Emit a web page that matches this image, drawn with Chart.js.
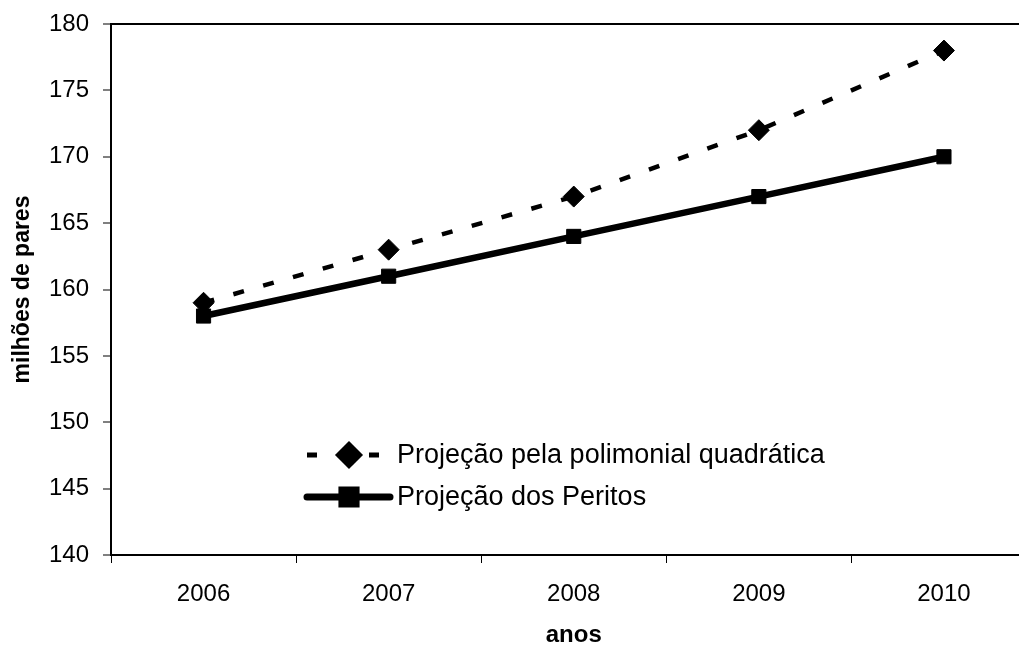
<!DOCTYPE html>
<html>
<head>
<meta charset="utf-8">
<script src="https://cdn.jsdelivr.net/npm/chart.js@4.4.0/dist/chart.umd.min.js"></script>
<style>
  html, body { margin: 0; padding: 0; background: #fff; overflow: hidden; }
  #wrap { width: 1019px; height: 646px; overflow: hidden; }
</style>
</head>
<body>
<div id="wrap"><canvas id="chart" width="1048" height="646"></canvas></div>
<script>
// anos
const years = ["2006", "2007", "2008", "2009", "2010"];
// milhões de pares
const quadratica = [159, 163, 167, 172, 178];
const peritos = [158, 161, 164, 167, 170];
const yTicks = [140, 145, 150, 155, 160, 165, 170, 175, 180];

const FONT = "'Liberation Sans', Arial, sans-serif";

// legend drawn inside the plot, like the original
const insideLegend = {
    id: "insideLegend",
    afterDatasetsDraw(chart) {
        const ctx = chart.ctx;
        const rows = [
            { ds: chart.data.datasets[0], y: 455 },
            { ds: chart.data.datasets[1], y: 497 }
        ];
        ctx.save();
        for (let r of rows) {
            ctx.strokeStyle = "#000";
            ctx.beginPath();
            if (r.ds.borderDash) {
                ctx.lineWidth = 5;
                ctx.setLineDash([10, 21]);
                ctx.lineCap = "butt";
                ctx.moveTo(307, r.y);
                ctx.lineTo(391, r.y);
            } else {
                ctx.lineWidth = 7;
                ctx.lineCap = "round";
                ctx.moveTo(307, r.y);
                ctx.lineTo(390, r.y);
            }
            ctx.stroke();
            ctx.setLineDash([]);
            Chart.helpers.drawPoint(ctx, {
                pointStyle: r.ds.pointStyle,
                radius: r.ds.pointRadius,
                borderWidth: 1
            }, 349, r.y);
            ctx.fillStyle = "#000";
            ctx.fill();
            ctx.font = "27px " + FONT;
            ctx.textBaseline = "middle";
            ctx.textAlign = "left";
            ctx.fillText(r.ds.label, 397, r.y + 1);
        }
        ctx.restore();
    }
};

const ctx = document.getElementById("chart").getContext("2d");

new Chart(ctx, {
    type: "line",
    data: {
        labels: years,
        datasets: [
            {
                label: "Projeção pela polimonial quadrática",
                data: quadratica,
                borderColor: "#000",
                backgroundColor: "#000",
                borderWidth: 4.5,
                borderDash: [11, 20],
                pointStyle: "rectRot",
                pointRadius: 10.5,
                pointBorderWidth: 1,
                tension: 0,
                fill: false
            },
            {
                label: "Projeção dos Peritos",
                data: peritos,
                borderColor: "#000",
                backgroundColor: "#000",
                borderWidth: 6.5,
                pointStyle: "rect",
                pointRadius: 10,
                pointBorderWidth: 1,
                tension: 0,
                fill: false
            }
        ]
    },
    options: {
        responsive: false,
        animation: false,
        layout: { padding: { top: 24, left: 0, right: 4, bottom: 0 } },
        plugins: {
            legend: { display: false },
            tooltip: { enabled: false }
        },
        scales: {
            x: {
                offset: true,
                border: { display: true, color: "#000", width: 2 },
                grid: {
                    offset: true,
                    drawOnChartArea: false,
                    tickLength: 8,
                    tickColor: "#000",
                    lineWidth: 1
                },
                ticks: { color: "#000", font: { family: FONT, size: 24 }, padding: 17 },
                title: {
                    display: true,
                    text: "anos",
                    color: "#000",
                    font: { family: FONT, size: 24, weight: "bold" },
                    padding: { top: 8, bottom: -4 }
                },
                afterFit: s => { s.height = 91; }
            },
            y: {
                min: 140,
                max: 180,
                afterBuildTicks: s => { s.ticks = yTicks.map(v => ({ value: v })); },
                border: { display: true, color: "#000", width: 2 },
                grid: {
                    color: c => (c.tick && c.tick.value === 180 ? "#000" : "rgba(0,0,0,0)"),
                    lineWidth: 2,
                    tickLength: 8,
                    tickColor: "#808080"
                },
                ticks: { color: "#000", font: { family: FONT, size: 24 }, padding: 14 },
                title: {
                    display: true,
                    text: "milhões de pares",
                    color: "#000",
                    font: { family: FONT, size: 23, weight: "bold" },
                    padding: { top: 9, bottom: 6 }
                },
                afterFit: s => {
                    s.width = 111;
                    s.paddingTop = 0;
                    s.paddingBottom = 0;
                }
            }
        }
    },
    plugins: [insideLegend]
});
</script>
</body>
</html>
